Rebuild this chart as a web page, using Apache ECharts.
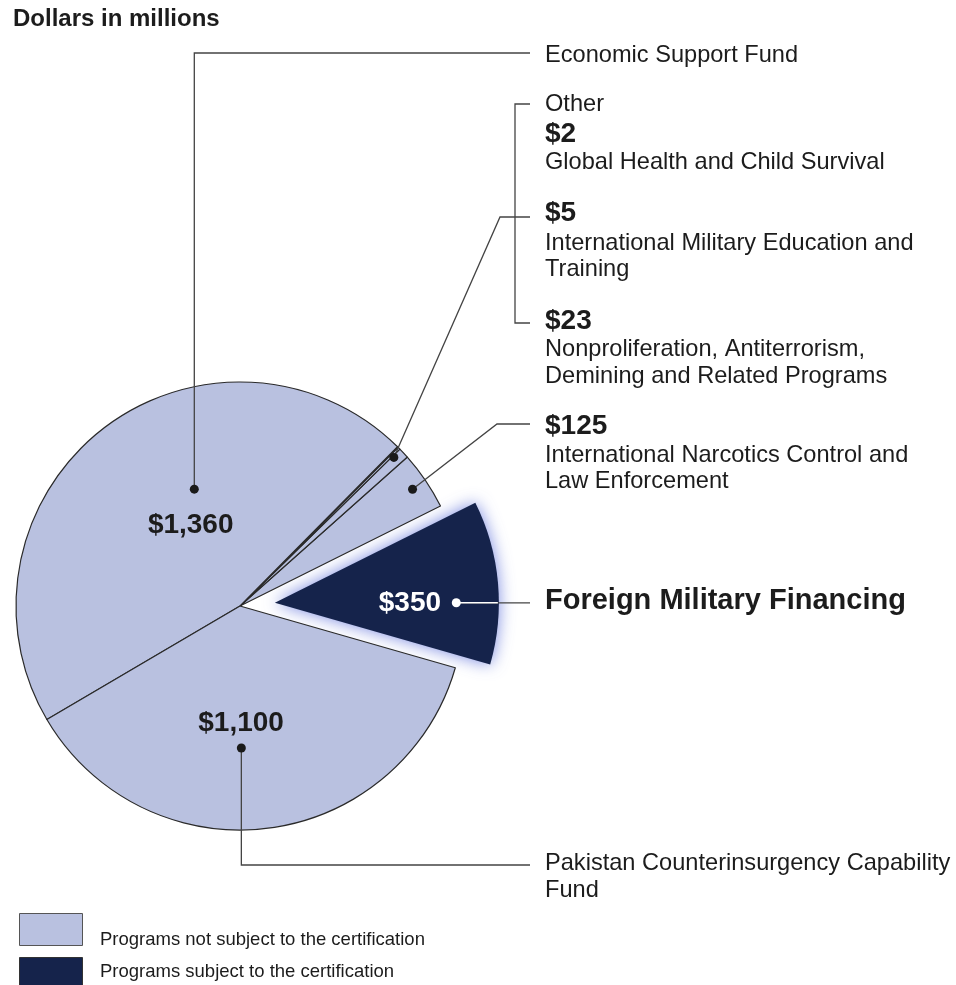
<!DOCTYPE html>
<html><head><meta charset="utf-8">
<script src="https://cdn.jsdelivr.net/npm/echarts@6/dist/echarts.min.js"></script>
<style>html,body{margin:0;padding:0;background:#fff}#c{width:956px;height:985px}</style>
</head><body><div id="c"></div>
<script>
// ---- data ----
const categories = [
  'Foreign Military Financing',
  'International Narcotics Control and Law Enforcement',
  'Nonproliferation, Antiterrorism, Demining and Related Programs',
  'International Military Education and Training',
  'Global Health and Child Survival',
  'Economic Support Fund',
  'Pakistan Counterinsurgency Capability Fund'
];
const values = [350, 125, 23, 5, 2, 1360, 1100];
const subjectToCert = [true, false, false, false, false, false, false];
const valueLabels = ['$350', '$125', '$23', '$5', '$2', '$1,360', '$1,100'];
const legendLabels = ['Programs not subject to the certification', 'Programs subject to the certification'];
const titleText = 'Dollars in millions';

// ---- layout ----
const CX = 240, CY = 606, R = 224, START = -16, OFFSET = 35;
const LIGHT = '#b9c1e0', DARK = '#15234b', INK = '#1c1c1c', LINE = '#444';
const FONT = '"Liberation Sans", Arial, sans-serif';
const X_LINE = 530, X_TEXT = 545, FS = 23.6;

const total = values.reduce((a, b) => a + b, 0);
const sA = [], eA = [];
let cum = 0;
values.forEach((v, i) => { sA.push(START + cum / total * 360); cum += v; eA.push(START + cum / total * 360); });
const rad = d => d * Math.PI / 180;
const polar = (deg, r, c) => [c[0] + r * Math.cos(rad(deg)), c[1] - r * Math.sin(rad(deg))];
const C0 = [CX, CY];
const midF = (sA[0] + eA[0]) / 2;
const EC = polar(midF, OFFSET, C0);

const g = [];
function txt(s, x, y, size, bold, align, fill) {
  g.push({ type: 'text', z: 120, style: { text: s, x: x, y: y, font: (bold ? 'bold ' : '') + size + 'px ' + FONT, fill: fill || INK, textAlign: align || 'left', textVerticalAlign: 'middle' } });
}
function pl(points, color, w) {
  g.push({ type: 'polyline', z: 110, shape: { points: points }, style: { stroke: color || LINE, lineWidth: w || 1.3, fill: null } });
}
function dot(p, color) {
  g.push({ type: 'circle', z: 115, shape: { cx: p[0], cy: p[1], r: 4.5 }, style: { fill: color || '#1a1a1a' } });
}

// Economic Support Fund (index 5)
const d5 = polar(sA[5] + 0.40 * (eA[5] - sA[5]), 0.56 * R, C0);
pl([d5, [d5[0], 53], [X_LINE, 53]]); dot(d5);
txt(categories[5], X_TEXT, 55, FS, false);

// Other group (indices 2..4)
const dO = polar(sA[2] + 0.64 * (eA[4] - sA[2]), 0.955 * R, C0);
pl([dO, [500, 217], [X_LINE, 217]]); dot(dO);
pl([[X_LINE, 104], [515, 104], [515, 323], [X_LINE, 323]]);
txt('Other', X_TEXT, 104, FS, false);
txt(valueLabels[4], X_TEXT, 134, 28, true);
txt(categories[4], X_TEXT, 162, FS, false);
txt(valueLabels[3], X_TEXT, 213, 28, true);
txt('International Military Education and', X_TEXT, 243, FS, false);
txt('Training', X_TEXT, 269, FS, false);
txt(valueLabels[2], X_TEXT, 321, 28, true);
txt('Nonproliferation, Antiterrorism,', X_TEXT, 349, FS, false);
txt('Demining and Related Programs', X_TEXT, 376, FS, false);

// $125
const d1 = polar((sA[1] + eA[1]) / 2, 0.93 * R, C0);
pl([d1, [497, 424], [X_LINE, 424]]); dot(d1);
txt(valueLabels[1], X_TEXT, 426, 28, true);
txt('International Narcotics Control and', X_TEXT, 455, FS, false);
txt('Law Enforcement', X_TEXT, 481, FS, false);

// FMF
const d0 = [EC[0] + 0.81 * R, EC[1]];
pl([d0, [X_LINE, d0[1]]]);
pl([d0, [EC[0] + R - 1, d0[1]]], '#ffffff', 1.6);
dot(d0, '#ffffff');
txt(categories[0], X_TEXT, 601, 29, true);
txt(valueLabels[0], EC[0] + 0.603 * R, EC[1], 28, true, 'center', '#ffffff');

// $1,360 label
const l5 = polar(sA[5] + 0.46 * (eA[5] - sA[5]), 0.424 * R, C0);
txt(valueLabels[5], l5[0], l5[1], 28, true, 'center');

// Pakistan (index 6)
const d6 = polar(sA[6] + 0.45 * (eA[6] - sA[6]), 0.634 * R, C0);
pl([d6, [d6[0], 865], [X_LINE, 865]]); dot(d6);
txt('Pakistan Counterinsurgency Capability', X_TEXT, 863, FS, false);
txt('Fund', X_TEXT, 890, FS, false);
const l6 = polar(sA[6] + 0.45 * (eA[6] - sA[6]), 0.522 * R, C0);
txt(valueLabels[6], l6[0], l6[1], 28, true, 'center');

// title
txt(titleText, 13, 19, 24, true);

// legend
g.push({ type: 'rect', z: 100, shape: { x: 19.5, y: 913.5, width: 63, height: 32 }, style: { fill: LIGHT, stroke: '#555', lineWidth: 1 } });
g.push({ type: 'rect', z: 100, shape: { x: 19.5, y: 957.5, width: 63, height: 32 }, style: { fill: DARK, stroke: '#333', lineWidth: 1 } });
txt(legendLabels[0], 100, 940, 18.5, false);
txt(legendLabels[1], 100, 972, 18.5, false);

const chart = echarts.init(document.getElementById('c'), null, { renderer: 'canvas' });
chart.setOption({
  animation: false,
  backgroundColor: '#ffffff',
  series: [{
    type: 'pie',
    center: [CX, CY],
    radius: R,
    startAngle: START,
    clockwise: false,
    selectedMode: 'single',
    selectedOffset: OFFSET,
    label: { show: false },
    labelLine: { show: false },
    emphasis: { disabled: true },
    silent: true,
    data: values.map((v, i) => ({
      value: v,
      name: categories[i],
      selected: subjectToCert[i],
      itemStyle: subjectToCert[i]
        ? { color: DARK, borderWidth: 0, shadowBlur: 16, shadowColor: 'rgba(80,100,215,0.75)' }
        : { color: LIGHT, borderColor: '#2a2a2a', borderWidth: 1.2 }
    }))
  }],
  graphic: { elements: g }
});
</script>
</body></html>
